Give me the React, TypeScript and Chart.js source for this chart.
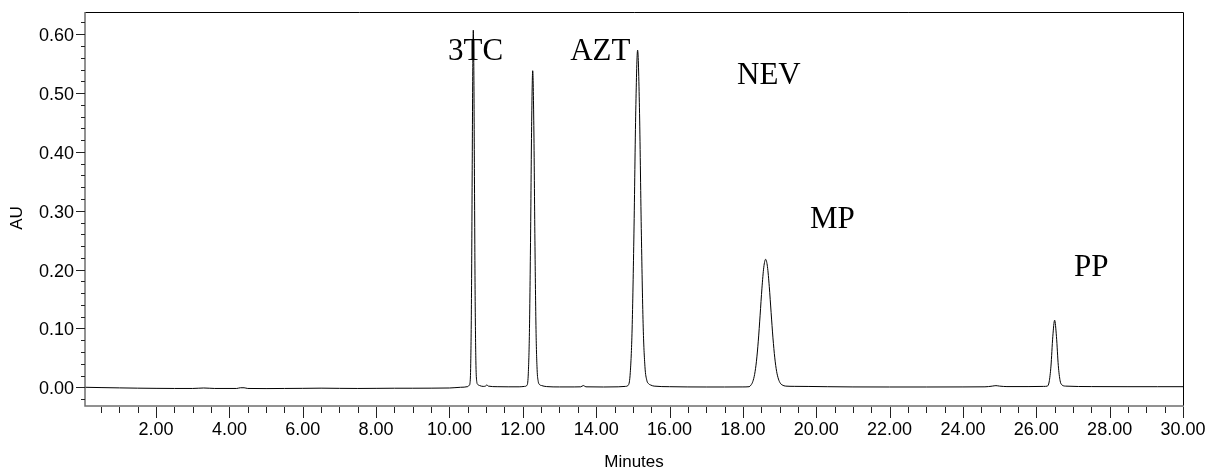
import { useEffect, useRef } from "react";
import { Chart, registerables } from "chart.js";

Chart.register(...registerables);

// Retention time (minutes)
const retentionTimes = [
  0.063, 0.5, 1.0, 1.5, 2.0, 2.5, 3.0, 3.3, 3.6, 4.2, 4.3, 4.4, 4.5, 5.0, 5.5, 6.0, 6.5, 7.0, 7.5, 8.0,
  8.5, 9.0, 9.5, 10.0, 10.3, 10.5,
  10.54, 10.56, 10.58, 10.6, 10.62, 10.635, 10.65, 10.665, 10.68, 10.7, 10.72, 10.74, 10.77, 10.82,
  10.92, 10.98, 11.02, 11.06, 11.3, 11.6, 11.9, 12.05,
  12.12, 12.15, 12.18, 12.21, 12.24, 12.27, 12.3, 12.33, 12.36, 12.39, 12.42, 12.45, 12.51, 12.65,
  13.0, 13.4, 13.58, 13.65, 13.72, 14.2, 14.6, 14.8,
  14.88, 14.93, 14.98, 15.03, 15.08, 15.13, 15.18, 15.23, 15.28, 15.33, 15.38, 15.43, 15.48, 15.58,
  16.0, 16.5, 17.0, 17.5, 18.0, 18.17,
  18.22, 18.27, 18.32, 18.37, 18.42, 18.47, 18.52, 18.57, 18.62, 18.67, 18.72, 18.77, 18.82, 18.87,
  18.92, 18.97, 19.02, 19.07, 19.17,
  19.4, 19.8, 20.3, 21.0, 22.0, 23.0, 24.0, 24.6, 24.8, 24.9, 25.0, 25.2, 25.8, 26.2,
  26.3, 26.35, 26.4, 26.45, 26.5, 26.55, 26.6, 26.65, 26.7, 26.8,
  27.5, 28.5, 29.3, 30.0,
];

// Absorbance (AU)
const absorbance = [
  0.0, -0.0005, -0.001, -0.0015, -0.0018, -0.002, -0.002, -0.0012, -0.002, -0.002, -0.0008, -0.0008,
  -0.002, -0.0022, -0.002, -0.0018, -0.0015, -0.0018, -0.002, -0.0018,
  -0.0016, -0.0016, -0.0015, -0.0012, 0.0, 0.0012,
  0.0035, 0.007, 0.04, 0.151, 0.368, 0.536, 0.607, 0.538, 0.372, 0.156, 0.045, 0.012, 0.005, 0.003,
  0.0015, 0.002, 0.004, 0.002, 0.001, 0.0008, 0.0008, 0.0015,
  0.004, 0.024, 0.093, 0.246, 0.443, 0.538, 0.445, 0.25, 0.098, 0.03, 0.01, 0.005, 0.003, 0.0012,
  0.0006, 0.0006, 0.0008, 0.003, 0.0008, 0.0005, 0.0008, 0.0015,
  0.004, 0.025, 0.099, 0.262, 0.471, 0.573, 0.475, 0.27, 0.108, 0.035, 0.012, 0.006, 0.004, 0.002,
  0.001, 0.0006, 0.0005, 0.0005, 0.0006, 0.001,
  0.0037, 0.0096, 0.0219, 0.0442, 0.0784, 0.1225, 0.1685, 0.204, 0.2175, 0.205, 0.171, 0.127, 0.084, 0.05,
  0.027, 0.014, 0.007, 0.004, 0.002,
  0.0016, 0.0014, 0.001, 0.0006, 0.0005, 0.0005, 0.0006, 0.0008, 0.002, 0.0028, 0.002, 0.0012, 0.0012, 0.0015,
  0.002, 0.009, 0.036, 0.086, 0.114, 0.086, 0.037, 0.011, 0.004, 0.002,
  0.0012, 0.001, 0.001, 0.001,
];

const xTickValues = [2, 4, 6, 8, 10, 12, 14, 16, 18, 20, 22, 24, 26, 28, 30];
const yTickValues = [0, 0.1, 0.2, 0.3, 0.4, 0.5, 0.6];

// Peak annotations (anchor in data units: minutes, AU)
const peakNames = ["3TC", "AZT", "NEV", "MP", "PP"];
const peakLabelX = [9.96, 13.29, 17.84, 19.83, 27.03];
const peakLabelY = [0.556, 0.556, 0.515, 0.271, 0.189];

const X_MIN = 0.063;
const X_MAX = 30;
const Y_MIN = -0.0318;
const Y_MAX = 0.6378;

const framePlugin = {
  id: "chromFrame",
  afterDraw(chart: any) {
    const { ctx, chartArea: a } = chart;
    const xs = chart.scales.x;
    const ys = chart.scales.y;
    ctx.save();

    // top & right border (black)
    ctx.strokeStyle = "#000";
    ctx.lineWidth = 1;
    ctx.beginPath();
    ctx.moveTo(a.left, Math.round(a.top) + 0.5);
    ctx.lineTo(Math.round(a.right) + 0.5, Math.round(a.top) + 0.5);
    ctx.lineTo(Math.round(a.right) + 0.5, a.bottom);
    ctx.stroke();

    // left & bottom axis (gray)
    ctx.strokeStyle = "#6e6e6e";
    ctx.lineWidth = 1.5;
    ctx.beginPath();
    ctx.moveTo(a.left, a.top);
    ctx.lineTo(a.left, a.bottom);
    ctx.lineTo(a.right + 1, a.bottom);
    ctx.stroke();

    // tick marks
    ctx.strokeStyle = "#222";
    ctx.lineWidth = 1;
    ctx.beginPath();
    for (let i = -1; i <= 31; i++) {
      const v = i * 0.02;
      if (v < Y_MIN || v > Y_MAX) continue;
      const py = Math.round(ys.getPixelForValue(v)) + 0.5;
      const len = i % 5 === 0 ? 9 : 4;
      ctx.moveTo(a.left, py);
      ctx.lineTo(a.left - len, py);
    }
    for (let i = 1; i <= 60; i++) {
      const v = i * 0.5;
      if (v < X_MIN || v > X_MAX) continue;
      const px = Math.round(xs.getPixelForValue(v)) + 0.5;
      const len = i % 4 === 0 ? 11 : 6;
      ctx.moveTo(px, a.bottom + 1);
      ctx.lineTo(px, a.bottom + 1 + len);
    }
    ctx.stroke();

    // peak labels
    ctx.fillStyle = "#000";
    ctx.font = '31px "Liberation Serif"';
    ctx.textAlign = "left";
    ctx.textBaseline = "alphabetic";
    peakNames.forEach((name, i) => {
      ctx.fillText(name, xs.getPixelForValue(peakLabelX[i]), ys.getPixelForValue(peakLabelY[i]));
    });

    // axis titles
    ctx.font = '17px "Liberation Sans"';
    ctx.textAlign = "center";
    ctx.textBaseline = "middle";
    ctx.fillText("Minutes", (a.left + a.right) / 2, 462);
    ctx.translate(17, 218);
    ctx.rotate(-Math.PI / 2);
    ctx.fillText("AU", 0, 0);
    ctx.restore();
  },
};

export default function App() {
  const canvasRef = useRef<HTMLCanvasElement | null>(null);

  useEffect(() => {
    if (!canvasRef.current) return;
    const chart = new Chart(canvasRef.current, {
      type: "line",
      data: {
        datasets: [
          {
            data: retentionTimes.map((t, i) => ({ x: t, y: absorbance[i] })),
            borderColor: "#000",
            borderWidth: 1,
            pointRadius: 0,
            fill: false,
            cubicInterpolationMode: "monotone",
          },
        ],
      },
      options: {
        animation: false,
        responsive: false,
        devicePixelRatio: 1,
        layout: { padding: { left: 0, right: 28, top: 12, bottom: 0 } },
        plugins: { legend: { display: false }, tooltip: { enabled: false } },
        scales: {
          x: {
            type: "linear",
            min: X_MIN,
            max: X_MAX,
            grid: { display: false, drawTicks: false },
            border: { display: false },
            ticks: {
              color: "#000",
              font: { family: "Liberation Sans", size: 18 },
              padding: 13,
              maxRotation: 0,
              autoSkip: false,
              callback: (v: any) => Number(v).toFixed(2),
            },
            afterBuildTicks: (s: any) => {
              s.ticks = xTickValues.map((v) => ({ value: v }));
            },
            afterFit: (s: any) => {
              s.height = 65;
              s.paddingLeft = 0;
              s.paddingRight = 0;
            },
          },
          y: {
            type: "linear",
            min: Y_MIN,
            max: Y_MAX,
            grid: { display: false, drawTicks: false },
            border: { display: false },
            ticks: {
              color: "#000",
              font: { family: "Liberation Sans", size: 18 },
              padding: 11,
              labelOffset: 2,
              autoSkip: false,
              callback: (v: any) => Number(v).toFixed(2),
            },
            afterBuildTicks: (s: any) => {
              s.ticks = yTickValues.map((v) => ({ value: v }));
            },
            afterFit: (s: any) => {
              s.width = 85;
              s.paddingTop = 0;
              s.paddingBottom = 0;
            },
          },
        },
      },
      plugins: [framePlugin],
    } as any);
    return () => chart.destroy();
  }, []);

  return (
    <div style={{ position: "fixed", left: 0, top: 0, width: 1211, height: 471, background: "#fff" }}>
      <canvas ref={canvasRef} width={1211} height={471} style={{ display: "block" }} />
    </div>
  );
}
